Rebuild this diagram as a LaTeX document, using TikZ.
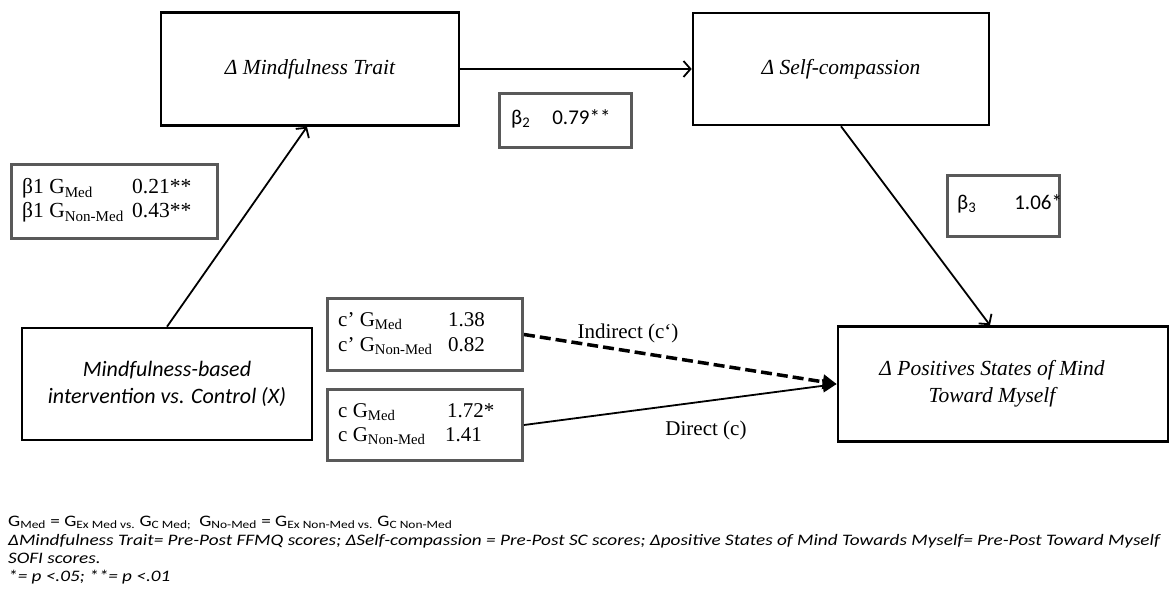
\documentclass[tikz,border=0pt]{standalone}
\usepackage{fontspec}
\setmainfont{Liberation Serif}
\newfontfamily\calibri{Carlito}
\newfontfamily\calibriwide[FakeStretch=1.2]{Carlito}
\usetikzlibrary{arrows.meta,positioning}

\newcommand{\coefcol}[2]{\makebox[#1][l]{#2}}

\tikzset{
    % boxes
    var-box/.style={
        draw,
        line width=2.6pt,
        inner sep=0pt,
        align=center,
        font=\fontsize{21.5}{27}\selectfont\itshape
    },
    coef-box/.style={
        draw=black!65,
        line width=3pt,
        inner sep=0pt,
        anchor=north west
    },
    coef-text/.style={
        anchor=west,
        inner sep=0pt,
        align=left,
        font=\fontsize{21}{24.5}\selectfont
    },
    % arrows
    path-arrow/.style={
        line width=1.8pt,
        -{Straight Barb[length=7pt,width=16pt,line width=1.8pt]}
    },
    indirect-arrow/.style={
        line width=3.5pt,
        dash pattern=on 11pt off 5pt,
        -{Triangle[length=14pt,width=14pt]}
    },
    direct-arrow/.style={
        line width=1.8pt,
        -{Triangle[length=14pt,width=13pt]}
    },
    note/.style={
        anchor=base west,
        inner sep=0pt,
        font=\calibriwide\fontsize{16}{18}\selectfont
    }
}

\begin{document}
\begin{tikzpicture}[x=1pt, y=-1pt]

    \useasboundingbox (0, 0) rectangle (1171, 596);

    % variables
    \node [var-box, minimum width=298pt, minimum height=113pt] (trait) at (310, 69) {Δ Mindfulness Trait};
    \node [var-box, minimum width=296pt, minimum height=112pt] (selfcomp) at (841, 69) {Δ Self-compassion};
    \node [var-box, minimum width=290pt, minimum height=112pt, font=\calibri\fontsize{22}{27}\selectfont\itshape] (interv) at (167, 384) {Mindfulness-based\\intervention vs. Control (X)};
    \node [var-box, minimum width=330pt, minimum height=115pt] (states) at (1003, 384) {Δ Positives States of Mind\hspace*{22pt}\\Toward Myself\hspace*{22pt}};

    % coefficients
    \node [coef-box, minimum width=206pt, minimum height=74pt] (beta1) at (10, 163) {};
    \node [coef-text, font=\fontsize{21.5}{24}\selectfont] (beta1-txt) at ([xshift=12pt, yshift=1pt]beta1.west) {%
        \coefcol{110pt}{β1 G\textsubscript{Med}}0.21** \\
        \coefcol{110pt}{β1 G\textsubscript{Non-Med}}0.43**};

    \node [coef-box, minimum width=132pt, minimum height=54pt] (beta2) at (498, 92) {};
    \node [coef-text, font=\calibri\fontsize{21}{24}\selectfont] (beta2-txt) at ([xshift=13pt, yshift=2pt]beta2.west) {β\textsubscript{2}\hspace{22pt}0.79**};

    \node [coef-box, minimum width=112pt, minimum height=61pt] (beta3) at (946, 174) {};
    \node [coef-text, font=\calibri\fontsize{21}{24}\selectfont] (beta3-txt) at ([xshift=11pt, yshift=2pt]beta3.west) {β\textsubscript{3}\hspace{38pt}1.06*};

    \node [coef-box, minimum width=195pt, minimum height=72pt] (cprime) at (326, 297) {};
    \node [coef-text] (cprime-txt) at ([xshift=12pt, yshift=1pt]cprime.west) {%
        \coefcol{110pt}{c’ G\textsubscript{Med}}1.38 \\
        \coefcol{110pt}{c’ G\textsubscript{Non-Med}}0.82};

    \node [coef-box, minimum width=195pt, minimum height=71pt] (ctotal) at (326, 388) {};
    \node [coef-text] (ctotal-txt) at ([xshift=12pt, yshift=1pt]ctotal.west) {%
        \coefcol{109pt}{c G\textsubscript{Med}}1.72* \\
        \coefcol{107pt}{c G\textsubscript{Non-Med}}1.41};

    % paths
    \draw [path-arrow] (interv.north) -- ([xshift=-3pt]trait.south);
    \draw [path-arrow] (trait.east) -- (selfcomp.west);
    \draw [path-arrow] (selfcomp.south) -- ([xshift=-13pt]states.north);
    \draw [direct-arrow] (ctotal.east) -- (states.west);
    \draw [indirect-arrow] (cprime.east) -- (states.west);

    % path labels
    \node [font=\fontsize{21}{24}\selectfont] (lbl-indirect) at (628, 333) {Indirect (c`)};
    \node [font=\fontsize{21}{24}\selectfont] (lbl-direct) at (706, 430) {Direct (c)};

    % notes
    \node [note] (note-1) at (8, 526) {G\textsubscript{Med} = G\textsubscript{Ex Med vs.} G\textsubscript{C Med;}\enspace G\textsubscript{No-Med} = G\textsubscript{Ex Non-Med vs.} G\textsubscript{C Non-Med}};
    \node [note, font=\calibriwide\fontsize{16}{18}\selectfont\itshape] (note-2) at (8, 545) {ΔMindfulness Trait= Pre-Post FFMQ scores; ΔSelf-compassion = Pre-Post SC scores; Δpositive States of Mind Towards Myself= Pre-Post Toward Myself};
    \node [note, font=\calibriwide\fontsize{16}{18}\selectfont\itshape] (note-3) at (8, 563) {SOFI scores.};
    \node [note, font=\calibriwide\fontsize{16}{18}\selectfont\itshape] (note-4) at (8, 581) {*= p <.05; **= p <.01};

\end{tikzpicture}
\end{document}
